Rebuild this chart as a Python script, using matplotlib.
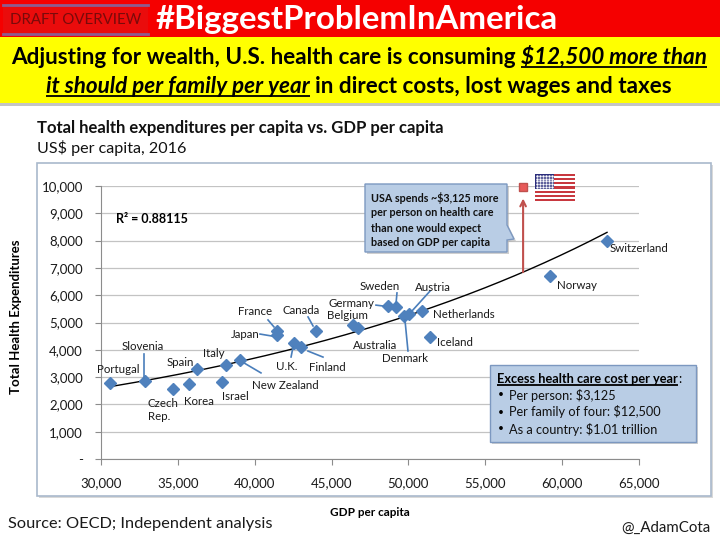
import numpy as np
import matplotlib
matplotlib.use('Agg')
import matplotlib.pyplot as plt
from matplotlib.patches import Rectangle, Polygon

FONT = ['Lato', 'DejaVu Sans']
plt.rcParams['font.family'] = FONT

# --- data (GDP per capita, health spend per capita, US$ 2016) ---
countries = ['Portugal', 'Slovenia', 'Czech\nRep.', 'Korea', 'Spain', 'Israel', 'Italy',
             'New Zealand', 'Japan', 'France', 'U.K.', 'Finland', 'Canada', 'Belgium',
             'Australia', 'Germany', 'Sweden', 'Denmark', 'Austria', 'Netherlands',
             'Iceland', 'Norway', 'Switzerland']
gdp = [30590, 32860, 34680, 35730, 36250, 37870, 38130, 39040, 41450, 41450, 42560,
       43010, 43990, 46400, 46720, 48670, 49190, 49710, 50040, 50880, 51400, 59210, 62920]
health = [2780, 2860, 2560, 2750, 3300, 2820, 3440, 3630, 4540, 4690, 4250, 4100,
          4690, 4910, 4800, 5600, 5570, 5240, 5310, 5420, 4470, 6700, 7990]
usa_gdp = 57460
usa_health = 9950

x_ticks = [30000, 35000, 40000, 45000, 50000, 55000, 60000, 65000]
y_ticks = [0, 1000, 2000, 3000, 4000, 5000, 6000, 7000, 8000, 9000, 10000]
y_ticklabels = ['-', '1,000', '2,000', '3,000', '4,000', '5,000', '6,000', '7,000',
                '8,000', '9,000', '10,000']
x_ticklabels = ['30,000', '35,000', '40,000', '45,000', '50,000', '55,000', '60,000', '65,000']

# label placement, pixel offsets from the marker (x right, y down)
label_off = {
    'Portugal': (8, -14), 'Slovenia': (-2, -34), 'Czech\nRep.': (-25, 21),
    'Korea': (10, 18), 'Spain': (-17, -6), 'Israel': (13, 14), 'Italy': (-12, -12),
    'New Zealand': (45, 26), 'Japan': (-32, -1), 'France': (-22, -19), 'U.K.': (-7, 24),
    'Finland': (26, 20), 'Canada': (-15, -20), 'Belgium': (-6, -9), 'Australia': (17, 18),
    'Germany': (-37, -3), 'Sweden': (-16, -20), 'Denmark': (1, 43), 'Austria': (24, -27),
    'Netherlands': (42, 3), 'Iceland': (25, 6), 'Norway': (27, 9), 'Switzerland': (32, 8),
}
leaders = {
    'Slovenia': ((-1, -27), (-1, -3)), 'New Zealand': ((4, 3), (21, 13)),
    'Japan': ((-17, -1), (-5, 1)), 'France': ((-9, -11), (-3, -4)),
    'U.K.': ((-3, 14), (-1, 4)), 'Finland': ((7, 4), (22, 10)),
    'Canada': ((-8, -14), (-3, -5)), 'Germany': ((-12, -1), (-4, 0)),
    'Sweden': ((1, -14), (0, -3)), 'Denmark': ((1, 4), (4, 35)),
    'Austria': ((21, -23), (2, -2)),
}

W, H = 720, 540
fig = plt.figure(figsize=(W / 100, H / 100), dpi=100)
renderer = fig.canvas.get_renderer()

# background overlay in pixel coordinates (y down)
bg = fig.add_axes([0, 0, 1, 1], zorder=-1)
bg.set_xlim(0, W)
bg.set_ylim(H, 0)
bg.axis('off')

# main chart
ax = fig.add_axes([101 / W, 1 - 459 / H, 538 / W, 273 / H], zorder=1)
ax.set_facecolor('none')

fg = fig.add_axes([0, 0, 1, 1], zorder=2)
fg.set_xlim(0, W)
fg.set_ylim(H, 0)
fg.axis('off')
fg.patch.set_alpha(0)


def fit_text(axo, x, y, s, width, **kw):
    t = axo.text(x, y, s, fontsize=10, **kw)
    w = t.get_window_extent(renderer).width
    t.set_fontsize(10 * width / w)
    return t


def text_width(s, fs, **kw):
    t = fg.text(0, 0, s, fontsize=fs, **kw)
    w = t.get_window_extent(renderer).width
    t.remove()
    return w


def mixed_line(axo, pieces, y, fs, x=None, center=None, ul_dy=3, color='black'):
    """pieces: list of (text, weight, style, underline, space_after)"""
    widths = [text_width(p[0], fs, fontweight=p[1], fontstyle=p[2]) for p in pieces]
    sp = text_width('a a', fs, fontweight='bold') - text_width('aa', fs, fontweight='bold')
    total = sum(widths) + sp * sum(1 for p in pieces if p[4])
    cx = x if x is not None else center - total / 2
    for (s, wt, st, ul, spa), w in zip(pieces, widths):
        axo.text(cx, y, s, fontsize=fs, fontweight=wt, fontstyle=st, color=color,
                 ha='left', va='baseline')
        if ul:
            axo.plot([cx, cx + w], [y + ul_dy, y + ul_dy], color=color, lw=1.3,
                     solid_capstyle='butt')
        cx += w + (sp if spa else 0)


# --- header banners ---
bg.add_patch(Rectangle((0, 0), W, 37, fc='#f50000', ec='none'))
bg.add_patch(Rectangle((0, 37), W, 66, fc='#ffff00', ec='none'))
bg.add_patch(Rectangle((0, 103), W, 3, fc='#c4c4c4', ec='none'))
bg.add_patch(Rectangle((3, 5), 145, 29, fc='#ea0c0c', ec='none'))
bg.plot([3, 148], [5, 5], color='#8d5c8f', lw=2)
bg.plot([3, 148], [34, 34], color='#8d5c8f', lw=2)
fit_text(bg, 10, 20, 'DRAFT OVERVIEW', 130, color='#7a0a0a', va='center', ha='left')
fit_text(bg, 155, 20, '#BiggestProblemInAmerica', 403, color='white',
         fontweight='bold', va='center', ha='left')

# size the yellow headline so the first line spans the band
line1 = [('Adjusting for wealth, U.S. health care is consuming', 'bold', 'normal', False, True),
         ('$12,500 more than', 'bold', 'italic', True, False)]
line2 = [('it should per family per year', 'bold', 'italic', True, True),
         ('in direct costs, lost wages and taxes', 'bold', 'normal', False, False)]
base = sum(text_width(p[0], 10, fontweight=p[1], fontstyle=p[2]) for p in line1)
fs_head = 10 * 690 / base
mixed_line(bg, line1, 64, fs_head, center=359)
mixed_line(bg, line2, 93, fs_head, center=359)

# chart title
fit_text(bg, 37, 128, 'Total health expenditures per capita vs. GDP per capita', 408,
         fontweight='bold', va='center', ha='left', color='#111111')
fit_text(bg, 37, 148, 'US$ per capita, 2016', 149, va='center', ha='left', color='#111111')

# chart frame
bg.add_patch(Rectangle((39, 165), 674, 333, fc='#d9d9d9', ec='none'))
bg.add_patch(Rectangle((37, 163), 674, 333, fc='white', ec='#a9b9cc', lw=1.2))

# footer
fit_text(bg, 8, 524, 'Source: OECD; Independent analysis', 264, va='center', ha='left',
         color='#1a1a1a')
fit_text(bg, 711, 528, '@_AdamCota', 89, va='center', ha='right', color='#1a1a1a')

# --- scatter chart ---
ax.set_xlim(30000, 65000)
ax.set_ylim(0, 10000)
ax.set_xticks(x_ticks)
ax.set_xticklabels(x_ticklabels)
ax.set_yticks(y_ticks)
ax.set_yticklabels(y_ticklabels)
ax.yaxis.grid(True, color='#c3c3c3', lw=0.9)
ax.set_axisbelow(True)
for side in ['top', 'right']:
    ax.spines[side].set_visible(False)
for side in ['left', 'bottom']:
    ax.spines[side].set_color('#8c8c8c')
ax.tick_params(axis='x', colors='#8c8c8c', labelcolor='#1a1a1a', length=4,
               labelsize=9.5, pad=9)
ax.tick_params(axis='y', colors='#8c8c8c', labelcolor='#1a1a1a', length=4,
               labelsize=9.5, pad=9)
ax.set_xlabel('GDP per capita', fontweight='bold', fontsize=8.5)
ax.xaxis.set_label_coords(0.5, -(507 - 459) / 273)
ax.set_ylabel('Total Health Expenditures', fontweight='bold', fontsize=9.5)
ax.yaxis.set_label_coords(-(101 - 22) / 538, 0.52)

# exponential trend line (Excel style fit on log values)
b, ln_a = np.polyfit(gdp, np.log(health), 1)
xs = np.linspace(min(gdp), max(gdp), 200)
ax.plot(xs, np.exp(ln_a + b * xs), color='black', lw=1, zorder=2)

ax.plot(gdp, health, 'D', color='#4f81bd', markersize=6, zorder=3, clip_on=False)
ax.plot([usa_gdp], [usa_health], 's', color='#e85a5a', mec='#c0504d', markersize=6,
        zorder=3, clip_on=False)
trend_usa = np.exp(ln_a + b * usa_gdp)
ax.annotate('', xy=(usa_gdp, usa_health), xytext=(usa_gdp, trend_usa),
            arrowprops=dict(arrowstyle='->', color='#c0504d', lw=1.5,
                            shrinkA=0, shrinkB=8), zorder=3)

ax.text(30950, 8800, 'R² = 0.88115', fontsize=9, fontweight='bold', va='center',
        ha='left')

# country labels and leader lines, placed in pixel space
for name, x, y in zip(countries, gdp, health):
    px, py = ax.transData.transform((x, y))
    py = H - py
    dx, dy = label_off[name]
    ha = 'left' if name.startswith('Czech') else 'center'
    fg.text(px + dx, py + dy, name, fontsize=8.3, ha=ha, va='center', color='#1a1a1a',
            linespacing=1.25)
    if name in leaders:
        (x0, y0), (x1, y1) = leaders[name]
        fg.plot([px + x0, px + x1], [py + y0, py + y1], color='#4a7ebb', lw=1.2)

# callout box
call = [(365, 184), (507, 184), (507, 225), (514, 239), (507, 240), (507, 252), (365, 252)]
fg.add_patch(Polygon([(a + 2, c + 2) for a, c in call], closed=True, fc='#b0b0b0',
                     ec='none', alpha=0.6))
fg.add_patch(Polygon(call, closed=True, fc='#b9cde5', ec='#7c98c0', lw=1))
call_lines = ['USA spends ~\\$3,125 more', 'per person on health care',
              'than one would expect', 'based on GDP per capita']
fs_call = 10 * 128 / text_width(call_lines[0], 10, fontweight='bold')
for i, s in enumerate(call_lines):
    fg.text(371, 198 + 15 * i, s, fontsize=fs_call, fontweight='bold', va='center',
            ha='left', color='#111111')

# excess box
fg.add_patch(Rectangle((492, 367), 206, 77, fc='#b0b0b0', ec='none', alpha=0.6))
fg.add_patch(Rectangle((490, 365), 206, 77, fc='#b9cde5', ec='#7c98c0', lw=1))
bullets = ['Per person: \\$3,125', 'Per family of four: \\$12,500',
           'As a country: \\$1.01 trillion']
fs_box = 10 * 152 / text_width(bullets[1], 10)
mixed_line(fg, [('Excess health care cost per year', 'bold', 'normal', True, False),
                (':', 'normal', 'normal', False, False)], 383, fs_box, x=497, ul_dy=2)
for i, s in enumerate(bullets):
    fg.text(498, 395 + 17 * i, '•', fontsize=fs_box * 0.8, va='center', ha='left')
    fg.text(509, 395 + 17 * i, s, fontsize=fs_box, va='center', ha='left', color='#111111')

# US flag
fx, fy, fw, fh = 535, 174, 40, 27
for i in range(13):
    fg.add_patch(Rectangle((fx, fy + i * fh / 13), fw, fh / 13,
                           fc='#c8383f' if i % 2 == 0 else 'white', ec='none'))
fg.add_patch(Rectangle((fx, fy), 19, fh * 7 / 13, fc='#2b2d7c', ec='none'))
sx, sy = np.meshgrid(np.linspace(fx + 2, fx + 17, 6), np.linspace(fy + 2, fy + 12.5, 5))
fg.plot(sx.ravel(), sy.ravel(), 'o', color='white', markersize=0.8)

fig.savefig('out.png', dpi=100)
